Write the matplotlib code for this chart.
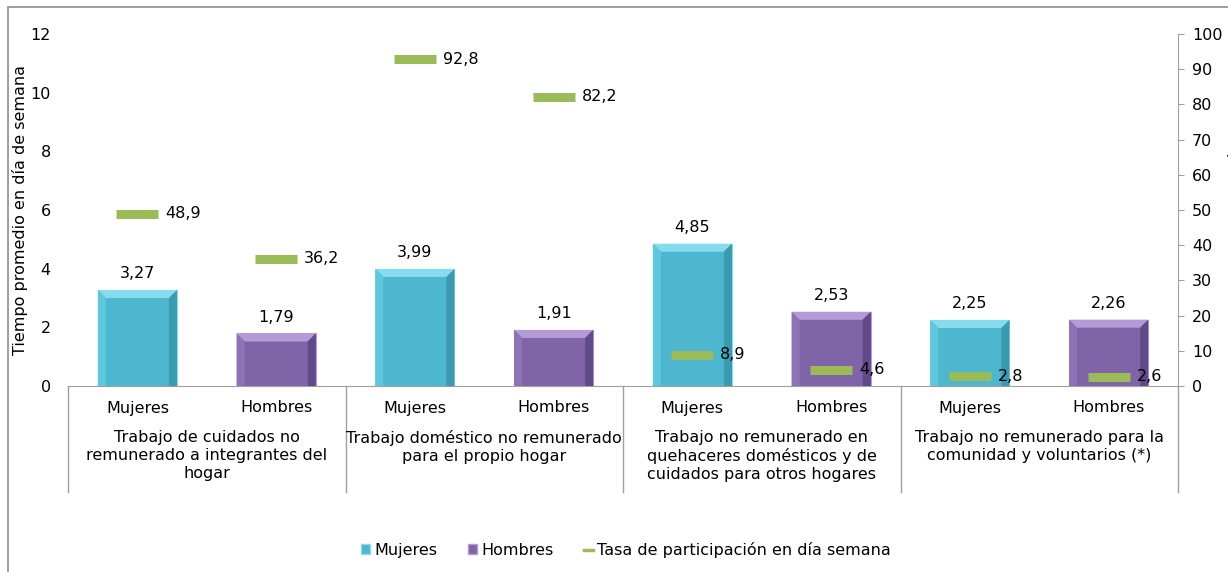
import matplotlib
matplotlib.use("Agg")
import matplotlib.pyplot as plt
from matplotlib.patches import Polygon, Rectangle
from matplotlib.lines import Line2D
from matplotlib.patches import Patch
import matplotlib.transforms as mtrans

# ---- data ----
groups = ["Trabajo de cuidados no\nremunerado a integrantes del\nhogar",
          "Trabajo doméstico no remunerado\npara el propio hogar",
          "Trabajo no remunerado en\nquehaceres domésticos y de\ncuidados para otros hogares",
          "Trabajo no remunerado para la\ncomunidad y voluntarios (*)"]
sexes = ["Mujeres", "Hombres"]
tiempo = [3.27, 1.79, 3.99, 1.91, 4.85, 2.53, 2.25, 2.26]
tasa = [48.9, 36.2, 92.8, 82.2, 8.9, 4.6, 2.8, 2.6]
left_ticks = [0, 2, 4, 6, 8, 10, 12]
right_ticks = [0, 10, 20, 30, 40, 50, 60, 70, 80, 90, 100]

def fmt(v, d):
    return f"{v:.{d}f}".replace(".", ",")

col_m = "#4DB7CF"; col_m_light = "#86DBEE"; col_m_dark = "#3A9AB0"; col_m_side = "#5EC6DD"
col_h = "#8064A8"; col_h_light = "#B59AD8"; col_h_dark = "#62498A"; col_h_side = "#8E72B6"
green = "#9BBB59"
text_c = "#000000"

fig = plt.figure(figsize=(12.28, 5.72), dpi=100)
W, H = 1228, 572
ax = fig.add_axes([68/W, 1-386/H, (1178-68)/W, (386-34)/H])
ax2 = ax.twinx()

n = len(tiempo)
xs = list(range(n))
bw = 0.57
ax.set_xlim(-0.5, n-0.5)
ax.set_ylim(0, 12)
ax2.set_ylim(0, 100)

# bevel sizes in data units (about 8 px)
bx = 8/138.75
by = 8*12/352
for i, v in enumerate(tiempo):
    isM = (i % 2 == 0)
    face = col_m if isM else col_h
    light = col_m_light if isM else col_h_light
    dark = col_m_dark if isM else col_h_dark
    side = col_m_side if isM else col_h_side
    x0, x1 = i - bw/2, i + bw/2
    ax.bar(i, v, width=bw, color=face, edgecolor=light, linewidth=0.8, zorder=2)
    # bevel
    ax.add_patch(Polygon([(x0, v), (x1, v), (x1-bx, v-by), (x0+bx, v-by)], closed=True,
                         facecolor=light, edgecolor="none", zorder=3))
    ax.add_patch(Polygon([(x0, 0), (x0, v), (x0+bx, v-by), (x0+bx, 0)], closed=True,
                         facecolor=side, edgecolor="none", zorder=3))
    ax.add_patch(Polygon([(x1, 0), (x1, v), (x1-bx, v-by), (x1-bx, 0)], closed=True,
                         facecolor=dark, edgecolor="none", zorder=3))
    ax.text(i, v + 0.3, fmt(v, 2), ha="center", va="bottom", fontsize=11.5, color=text_c, zorder=5)

ax2.plot(xs, tasa, ls="none", marker="_", markersize=30, markeredgewidth=6.5,
         color=green, zorder=6)
for i, t in enumerate(tasa):
    ax2.text(i + 0.2, t, fmt(t, 1), ha="left", va="center", fontsize=11.5, color=text_c, zorder=7)

# axes styling
for s in ["top", "left", "right"]:
    ax.spines[s].set_visible(False)
for s in ["top", "left"]:
    ax2.spines[s].set_visible(False)
ax.spines["bottom"].set_color("#A0A0A0")
ax2.spines["bottom"].set_visible(False)
ax2.spines["right"].set_color("#A0A0A0")
ax.set_yticks(left_ticks)
ax.tick_params(axis="y", length=0, labelsize=11.5, pad=12.5)
ax2.set_yticks(right_ticks)
ax2.tick_params(axis="y", length=4, color="#A0A0A0", labelsize=11.5, pad=6)
ax.set_xticks([])
ax.set_ylabel("Tiempo promedio en día de semana", fontsize=11.5)
ax.yaxis.set_label_coords((28-68)/1110, 0.5)

# category labels
trans = mtrans.blended_transform_factory(ax.transData, ax.transAxes)
for i in xs:
    ax.text(i, -(408-386)/352, sexes[i % 2], transform=trans, ha="center", va="center",
            fontsize=11.5, color=text_c)
for g, label in enumerate(groups):
    ax.text(2*g + 0.5, -(430-386)/352, label, transform=trans, ha="center", va="top",
            fontsize=11.5, color=text_c, linespacing=1.25)
for b in range(len(groups) + 1):
    ax.add_line(Line2D([2*b - 0.5, 2*b - 0.5], [0, -(492-386)/352], transform=trans,
                       color="#A0A0A0", lw=1, clip_on=False))

# right axis label (cut off by the figure edge, as in the source image)
fig.text(1236/W, 1-210/H, "Tasa de participación (%)", rotation=90, ha="center", va="center",
         fontsize=11.5, color=text_c)

# legend
handles = [Patch(facecolor=col_m, edgecolor=col_m_light),
           Patch(facecolor=col_h, edgecolor=col_h_light),
           Line2D([0], [0], color=green, lw=2.5)]
fig.legend(handles, ["Mujeres", "Hombres", "Tasa de participación en día semana"],
           loc="center", bbox_to_anchor=(626/W, 1-550/H), ncol=3, frameon=False,
           fontsize=11.5, handlelength=0.6, handleheight=0.6, handletextpad=0.25,
           columnspacing=1.9)

# outer chart border
fig.add_artist(Rectangle((8/W, -0.05), 1.2, 1.05 - 7/H, transform=fig.transFigure,
                         fill=False, edgecolor="#8C8C8C", lw=1.2))

fig.savefig("out.png", dpi=100)
